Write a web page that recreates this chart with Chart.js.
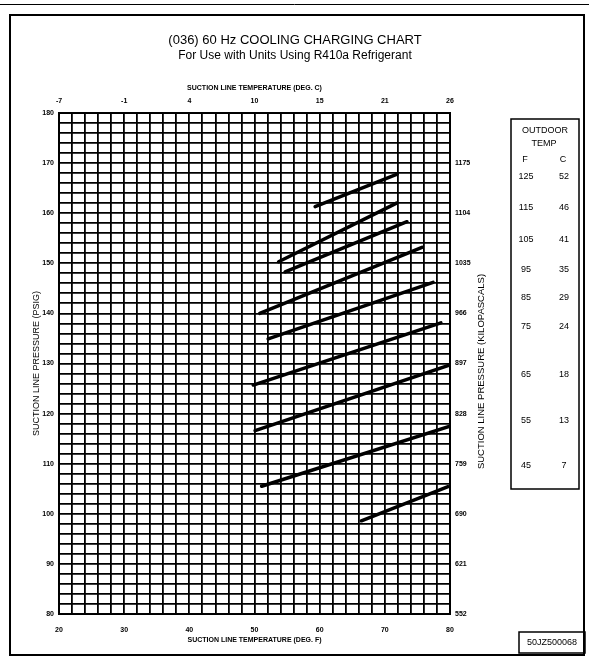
<!DOCTYPE html>
<html>
<head>
<meta charset="utf-8">
<script src="https://cdn.jsdelivr.net/npm/chart.js@4.4.0/dist/chart.umd.min.js"></script>
<style>
  html, body { margin: 0; padding: 0; background: #fff; }
  #wrap { position: relative; width: 589px; height: 660px; }
</style>
</head>
<body>
<div id="wrap"><canvas id="chart" width="589" height="660"></canvas></div>
<script>
// --- Data ---
// one line per outdoor temperature, top line = 125 F
const outdoorF = [125, 115, 105, 95, 85, 75, 65, 55, 45];
const outdoorC = [52, 46, 41, 35, 29, 24, 18, 13, 7];
const startTempF = [59.3, 53.7, 54.7, 50.8, 52.1, 49.8, 50.1, 51.1, 66.4];
const endTempF = [71.9, 71.8, 73.4, 75.7, 77.4, 78.6, 80, 80, 79.7];
const startPsig = [161.3, 150.3, 148.3, 140.0, 134.9, 125.7, 116.6, 105.5, 98.6];
const endPsig = [167.8, 162.0, 158.3, 153.2, 146.2, 138.1, 129.7, 117.5, 105.4];

// tick labels
const tempTicksF = [20, 30, 40, 50, 60, 70, 80];
const tempTicksC = ['-7', '-1', '4', '10', '15', '21', '26'];
const psigTicks = [80, 90, 100, 110, 120, 130, 140, 150, 160, 170, 180];
const kpaPsig = [80, 90, 100, 110, 120, 130, 140, 150, 160, 170];
const kpaTicks = ['552', '621', '690', '759', '828', '897', '966', '1035', '1104', '1175'];

const NARROW = "'Liberation Sans Narrow', 'Liberation Sans', Arial, sans-serif";
const SANS = "'Liberation Sans', Arial, sans-serif";

function labelFor(v, keys, labels) {
    const i = keys.indexOf(v);
    return i < 0 ? '' : String(labels[i]);
}

const tickFont = { family: NARROW, size: 7, weight: 'bold' };
const gridStyle = { color: '#000', lineWidth: 1.8, drawTicks: false };
const borderStyle = { color: '#000', width: 2 };

// titles, outdoor temp box and page frame
const decorations = {
    id: 'decorations',
    afterDraw(chart) {
        const ctx = chart.ctx;
        const area = chart.chartArea;
        ctx.save();
        ctx.fillStyle = '#000';
        ctx.strokeStyle = '#000';

        // page frame
        ctx.lineWidth = 1;
        ctx.beginPath();
        ctx.moveTo(0, 4.5); ctx.lineTo(589, 4.5);
        ctx.stroke();
        ctx.lineWidth = 2;
        ctx.strokeRect(10, 15, 574, 640);

        // heading
        ctx.textAlign = 'center';
        ctx.textBaseline = 'middle';
        ctx.font = "13px " + SANS;
        ctx.fillText('(036) 60 Hz COOLING CHARGING CHART', 295, 40);
        ctx.font = "12px " + SANS;
        ctx.fillText('For Use with Units Using R410a Refrigerant', 295, 56);

        // right axis title, reading bottom to top
        ctx.save();
        ctx.translate(481, (area.top + area.bottom) / 2 + 8);
        ctx.rotate(-Math.PI / 2);
        ctx.font = "9.5px " + NARROW;
        ctx.fillText('SUCTION LINE PRESSURE (KILOPASCALS)', 0, 0);
        ctx.restore();

        // outdoor temp box
        ctx.lineWidth = 1.5;
        ctx.strokeRect(511, 119, 68, 370);
        ctx.font = "9px " + NARROW;
        ctx.fillText('OUTDOOR', 545, 131);
        ctx.fillText('TEMP', 544, 144);
        ctx.fillText('F', 525, 160);
        ctx.fillText('C', 563, 160);
        const rowY = [177, 208, 240, 270, 298, 327, 375, 421, 466];
        outdoorF.forEach((f, i) => {
            ctx.fillText(String(f), 526, rowY[i]);
            ctx.fillText(String(outdoorC[i]), 564, rowY[i]);
        });

        // drawing number
        ctx.lineWidth = 1.5;
        ctx.strokeRect(519, 632, 66, 21);
        ctx.font = "9px " + NARROW;
        ctx.fillText('50JZ500068', 552, 643);
        ctx.restore();
    }
};

const datasets = outdoorF.map((f, i) => ({
    label: f + ' F',
    data: [
        { x: startTempF[i], y: startPsig[i] },
        { x: endTempF[i], y: endPsig[i] }
    ],
    borderColor: '#000',
    borderWidth: 3.5,
    pointRadius: 0,
    borderCapStyle: 'round',
    xAxisID: 'x',
    yAxisID: 'y'
}));

new Chart(document.getElementById('chart').getContext('2d'), {
    type: 'line',
    data: { datasets },
    plugins: [decorations],
    options: {
        responsive: false,
        animation: false,
        layout: { padding: { left: 10, right: 10, top: 75, bottom: 10 } },
        plugins: {
            legend: { display: false },
            tooltip: { enabled: false }
        },
        scales: {
            x: {
                type: 'linear',
                position: 'bottom',
                min: 20, max: 80,
                ticks: {
                    stepSize: 2, autoSkip: false, maxRotation: 0, padding: 12,
                    color: '#000', font: tickFont,
                    callback: v => labelFor(v, tempTicksF, tempTicksF)
                },
                grid: gridStyle,
                border: borderStyle,
                title: {
                    display: true, text: 'SUCTION LINE TEMPERATURE (DEG. F)', color: '#000',
                    font: { family: NARROW, size: 7, weight: 'bold' },
                    padding: { top: 0, bottom: 6 }
                },
                afterFit: s => { s.height = 36; }
            },
            x2: {
                type: 'linear',
                position: 'top',
                min: 20, max: 80,
                ticks: {
                    stepSize: 2, autoSkip: false, maxRotation: 0, padding: 8,
                    color: '#000', font: tickFont,
                    callback: v => labelFor(v, tempTicksF, tempTicksC)
                },
                grid: { display: false, drawTicks: false },
                border: borderStyle,
                title: {
                    display: true, text: 'SUCTION LINE TEMPERATURE (DEG. C)', color: '#000',
                    font: { family: NARROW, size: 7, weight: 'bold' },
                    padding: { top: 9, bottom: 0 }
                },
                afterFit: s => { s.height = 38; }
            },
            y: {
                type: 'linear',
                position: 'left',
                min: 80, max: 180,
                ticks: {
                    stepSize: 2, autoSkip: false, padding: 5,
                    color: '#000', font: tickFont,
                    callback: v => labelFor(v, psigTicks, psigTicks)
                },
                grid: gridStyle,
                border: borderStyle,
                title: {
                    display: true, text: 'SUCTION LINE PRESSURE (PSIG)', color: '#000',
                    font: { family: NARROW, size: 9 },
                    padding: { top: 21, bottom: 0 }
                },
                afterFit: s => { s.width = 49; }
            },
            y2: {
                type: 'linear',
                position: 'right',
                min: 80, max: 180,
                ticks: {
                    stepSize: 2, autoSkip: false, padding: 5,
                    color: '#000', font: tickFont,
                    callback: v => labelFor(v, kpaPsig, kpaTicks)
                },
                grid: { display: false, drawTicks: false },
                border: borderStyle,
                afterFit: s => { s.width = 129; }
            }
        }
    }
});
</script>
</body>
</html>
